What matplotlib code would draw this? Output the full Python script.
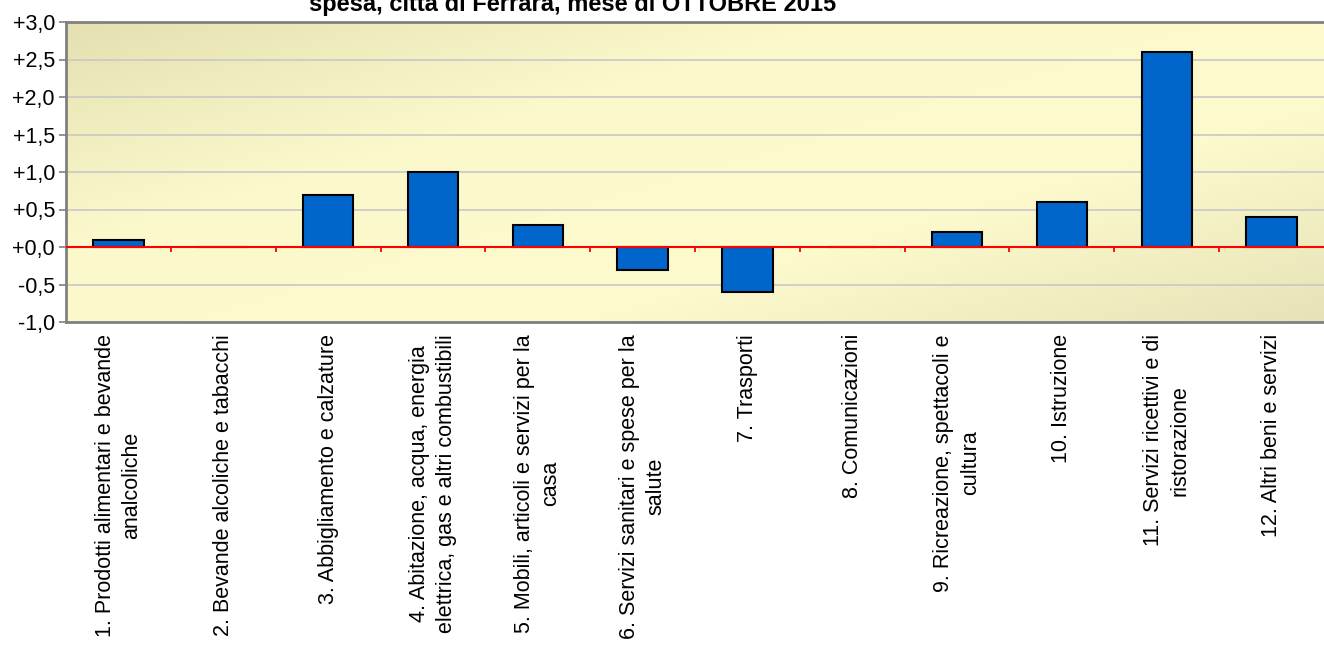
import matplotlib.pyplot as plt
import numpy as np
from matplotlib.colors import LinearSegmentedColormap
from matplotlib.ticker import FuncFormatter, MultipleLocator

plt.rcParams['font.family'] = ['Liberation Sans', 'DejaVu Sans']

# data
categories = [
    "1. Prodotti alimentari e bevande\nanalcoliche",
    "2. Bevande alcoliche e tabacchi",
    "3. Abbigliamento e calzature",
    "4. Abitazione, acqua, energia\nelettrica, gas e altri combustibili",
    "5. Mobili, articoli e servizi per la\ncasa",
    "6. Servizi sanitari e spese per la\nsalute",
    "7. Trasporti",
    "8. Comunicazioni",
    "9. Ricreazione, spettacoli e\ncultura",
    "10. Istruzione",
    "11. Servizi ricettivi e di\nristorazione",
    "12. Altri beni e servizi",
]
values = [0.1, 0.0, 0.7, 1.0, 0.3, -0.3, -0.6, 0.0, 0.2, 0.6, 2.6, 0.4]
title = "spesa, città di Ferrara, mese di OTTOBRE 2015"

fig = plt.figure(figsize=(13.24, 6.45), dpi=100)
ax = fig.add_axes([66 / 1324, 1 - 322 / 645, 1 - 66 / 1324, 300 / 645])

n = len(categories)
x = np.arange(n)
ymin, ymax = -1.0, 3.0

# gradient background (darker top-left / bottom-right, light in the middle)
cmap = LinearSegmentedColormap.from_list("bg", ["#e4e0b2", "#fbf9cb", "#fdfbcd", "#e6e3b8"])
gx, gy = np.meshgrid(np.linspace(0, 1, 200), np.linspace(0, 1, 100))
grad = 0.55 * gx + 0.45 * gy
ax.imshow(grad, cmap=cmap, extent=(-0.5, n - 0.5, ymin, ymax), aspect="auto",
          origin="upper", zorder=0)

ax.set_xlim(-0.5, n - 0.5)
ax.set_ylim(ymin, ymax)

ax.yaxis.set_major_locator(MultipleLocator(0.5))
ax.yaxis.set_major_formatter(FuncFormatter(lambda v, p: f"{v:+.1f}".replace(".", ",")))
ax.grid(axis="y", color="#c8c8c8", linewidth=1.2, zorder=1)
ax.tick_params(axis="y", labelsize=15.5, colors="#808080", labelcolor="black",
               length=5, width=1.2, pad=3)

ax.bar(x, values, width=0.48, color="#0066cc", edgecolor="black", linewidth=1.5, zorder=3)

# zero line in red with small ticks between categories
ax.axhline(0, color="red", linewidth=1.5, zorder=4)
bounds = x[:-1] + 0.5
ax.vlines(bounds, -0.07, 0, color="red", linewidth=1.3, zorder=4)

ax.set_xticks([])
for xi, lab in zip(x, categories):
    ax.text(xi, -0.04, lab, transform=ax.get_xaxis_transform(), rotation=90,
            ha="center", va="top", multialignment="center", fontsize=15.5,
            linespacing=1.35)

for side in ["left", "top", "bottom"]:
    ax.spines[side].set_color("#808080")
    ax.spines[side].set_linewidth(2)
ax.spines["right"].set_visible(False)

# title: only its last line falls inside the picture, as in the original
fig.text(573 / 1324, 1 - 11 / 645, title, ha="center", va="baseline",
         fontsize=17, fontweight="bold")

fig.savefig("out.png", dpi=100)
